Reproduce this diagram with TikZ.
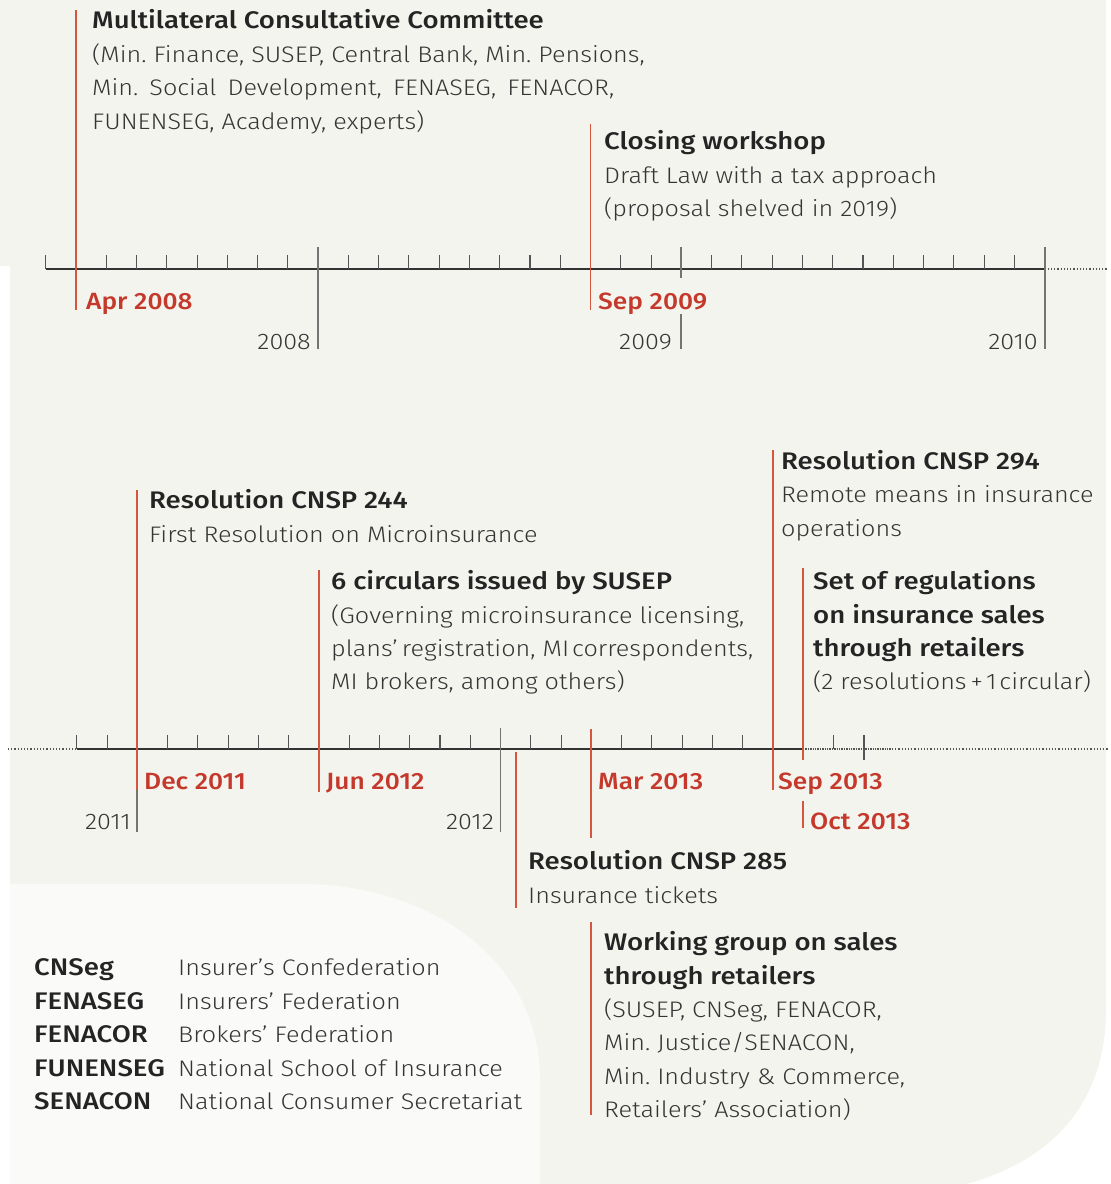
\documentclass[tikz,border=0pt]{standalone}
\usepackage{fontspec}
\setmainfont{Fira Sans}[UprightFont={* Light}, BoldFont={* Medium}]
\newfontfamily\bodyff{Fira Sans}[UprightFont={* Light}, FakeStretch=1.12]
\newfontfamily\ttlff{Fira Sans}[UprightFont={* Medium}, FakeStretch=1.15]
\newfontfamily\labff{Fira Sans}[UprightFont={* Medium}, FakeStretch=1.12]
\frenchspacing
\definecolor{bgc}{HTML}{F4F4EF}
\definecolor{legc}{HTML}{FAFAF8}
\definecolor{titlec}{HTML}{242424}
\definecolor{bodyc}{HTML}{353535}
\definecolor{redc}{HTML}{C4392B}
\definecolor{redl}{HTML}{D5553F}
\definecolor{axc}{HTML}{333333}
\definecolor{tickc}{HTML}{555555}
\definecolor{majc}{HTML}{747474}
\newcommand{\ttlfont}{\ttlff\fontsize{24}{28}\selectfont}
\newcommand{\bdyfont}{\bodyff\fontsize{22.5}{28}\selectfont}
\newcommand{\labfont}{\labff\fontsize{23.5}{28}\selectfont}
\tikzset{
  ttl/.style={anchor=base west, inner sep=0pt, font=\ttlfont, text=titlec},
  bdy/.style={anchor=base west, inner sep=0pt, font=\bdyfont, text=bodyc},
  mlab/.style={anchor=base west, inner sep=0pt, font=\labfont, text=redc},
  yrlab/.style={anchor=base east, inner sep=0pt, font=\bdyfont, text=bodyc},
  evline/.style={draw=redl, line width=1.6pt},
  tickmin/.style={draw=tickc, line width=1.1pt},
  majline/.style={draw=majc, line width=1.8pt},
  axisl/.style={draw=axc, line width=1.6pt},
  dotl/.style={draw=tickc, line width=1.2pt, dotted},
  ddotl/.style={draw=tickc, line width=1.4pt, densely dotted},
}
\begin{document}
\begin{tikzpicture}[x=1pt,y=-1pt]
\useasboundingbox (0,0) rectangle (1111,1184);
\begin{scope}
\clip (0,0) rectangle (1111,1184);
\fill[bgc] (0,0) -- (1106,0) -- (1106,1010) .. controls (1106,1120) and (1030,1188) .. (890,1196) -- (10,1196) -- (10,266) -- (0,266) -- cycle;
\fill[legc] (10,884) -- (300,884) .. controls (430,884) and (540,960) .. (540,1080) -- (540,1190) -- (10,1190) -- cycle;
\end{scope}

% ---------- timeline 1 ----------
\coordinate (a1s) at (45.7,269);
\coordinate (a1e) at (1044.6,269);
\coordinate (a1d) at (1108,269);
\draw[axisl] (a1s) -- (a1e);
\draw[dotl] (a1e) -- (a1d);
\foreach \k in {0,...,32} \draw[tickmin] (45.7+\k*30.27,269) -- ++(0,-14);
\coordinate (y8t) at (318,247); \coordinate (y8b) at (318,349);
\draw[majline] (y8t) -- (y8b);
\coordinate (y9t) at (681,247); \coordinate (y9m) at (681,278);
\coordinate (y9n) at (681,314); \coordinate (y9b) at (681,349);
\draw[majline] (y9t) -- (y9m); \draw[majline] (y9n) -- (y9b);
\coordinate (y10t) at (1044.6,247); \coordinate (y10b) at (1044.6,349);
\draw[majline] (y10t) -- (y10b);

\coordinate (apr8t) at (76,10); \coordinate (apr8b) at (76,310);
\draw[evline] (apr8t) -- (apr8b);
\coordinate (sep9t) at (590.5,124); \coordinate (sep9b) at (590.5,310);
\draw[evline] (sep9t) -- (sep9b);

\node[mlab] (lapr8) at (86,309) {Apr 2008};
\node[mlab] (lsep9) at (598,309) {Sep 2009};
\node[yrlab] (l2008) at (311,349) {2008};
\node[yrlab] (l2009) at (672,349) {2009};
\node[yrlab] (l2010) at (1038,349) {2010};

\node[ttl] (mcct) at (92,28) {Multilateral Consultative Committee};
\node[bdy] (mcc1) at (92,62) {(Min. Finance, SUSEP, Central Bank, Min. Pensions,};
\node[bdy] (mcc2) at (92,95.5) {\makebox[522pt][s]{Min. Social Development, FENASEG, FENACOR,}};
\node[bdy] (mcc3) at (92,129) {FUNENSEG, Academy, experts)};

\node[ttl] (cwt) at (604,149) {Closing workshop};
\node[bdy] (cw1) at (604,183) {Draft Law with a tax approach};
\node[bdy] (cw2) at (604,216.5) {(proposal shelved in 2019)};

% ---------- timeline 2 ----------
\coordinate (a2d) at (8,749);
\coordinate (a2s) at (76.8,749);
\coordinate (a2m) at (803,749);
\coordinate (a2n) at (892,749);
\coordinate (a2e) at (1108,749);
\draw[dotl] (a2d) -- (a2s);
\draw[axisl] (a2s) -- (a2m);
\draw[ddotl] (a2m) -- (a2n);
\draw[dotl] (a2n) -- (a2e);
\foreach \k in {0,...,25} \draw[tickmin] (76.8+\k*30.27,749) -- ++(0,-14);
\coordinate (c13t) at (864,735); \coordinate (c13b) at (864,760);
\draw[tickmin] (c13t) -- (c13b);
\coordinate (y11t) at (137,790); \coordinate (y11b) at (137,832);
\draw[majline] (y11t) -- (y11b);
\coordinate (y12t) at (500.5,728); \coordinate (y12b) at (500.5,832);
\draw[majline] (y12t) -- (y12b);

\coordinate (dec11t) at (137,490); \coordinate (dec11b) at (137,790);
\draw[evline] (dec11t) -- (dec11b);
\coordinate (jun12t) at (319,570); \coordinate (jun12b) at (319,792);
\draw[evline] (jun12t) -- (jun12b);
\coordinate (r285t) at (516,752); \coordinate (r285b) at (516,908);
\draw[evline] (r285t) -- (r285b);
\coordinate (mar13t) at (591,729); \coordinate (mar13b) at (591,838);
\draw[evline] (mar13t) -- (mar13b);
\coordinate (wgt) at (591,922); \coordinate (wgb) at (591,1115);
\draw[evline] (wgt) -- (wgb);
\coordinate (sep13t) at (773,450); \coordinate (sep13b) at (773,790);
\draw[evline] (sep13t) -- (sep13b);
\coordinate (oct13t) at (803,568); \coordinate (oct13m) at (803,760);
\coordinate (oct13n) at (803,801); \coordinate (oct13b) at (803,828);
\draw[evline] (oct13t) -- (oct13m); \draw[evline] (oct13n) -- (oct13b);

\node[mlab] (ldec11) at (144,789) {Dec 2011};
\node[mlab] (ljun12) at (326,789) {Jun 2012};
\node[mlab] (lmar13) at (598,789) {Mar 2013};
\node[mlab] (lsep13) at (778,789) {Sep 2013};
\node[mlab] (loct13) at (810,829) {Oct 2013};
\node[yrlab] (l2011) at (131,829) {2011};
\node[yrlab] (l2012) at (494,829) {2012};

\node[ttl] (r244t) at (149,508) {Resolution CNSP 244};
\node[bdy] (r2441) at (149,542) {First Resolution on Microinsurance};

\node[ttl] (circt) at (331,589) {6 circulars issued by SUSEP};
\node[bdy] (circ1) at (331,623) {(Governing microinsurance licensing,};
\node[bdy] (circ2) at (331,656) {plans’\hspace{4pt}registration, MI\hspace{3pt}correspondents,};
\node[bdy] (circ3) at (331,689) {MI brokers, among others)};

\node[ttl] (r294t) at (781,469) {Resolution CNSP 294};
\node[bdy] (r2941) at (781,502) {Remote means in insurance};
\node[bdy] (r2942) at (781,536) {operations};

\node[ttl] (sett1) at (813,589) {Set of regulations};
\node[ttl] (sett2) at (813,623) {on insurance sales};
\node[ttl] (sett3) at (813,656) {through retailers};
\node[bdy] (set1) at (813,689) {(2 resolutions\hspace{4pt}+\hspace{3pt}1\hspace{3pt}circular)};

\node[ttl] (r285tt) at (528,869) {Resolution CNSP 285};
\node[bdy] (r2851) at (528,903) {Insurance tickets};

\node[ttl] (wgt1) at (604,950) {Working group on sales};
\node[ttl] (wgt2) at (604,984) {through retailers};
\node[bdy] (wg1) at (604,1017) {(SUSEP, CNSeg, FENACOR,};
\node[bdy] (wg2) at (604,1050) {Min. Justice/SENACON,};
\node[bdy] (wg3) at (604,1084) {Min. Industry \& Commerce,};
\node[bdy] (wg4) at (604,1117) {Retailers’ Association)};

% ---------- legend ----------
\node[ttl] (k1) at (34,975) {CNSeg};
\node[ttl] (k2) at (34,1009) {FENASEG};
\node[ttl] (k3) at (34,1042) {FENACOR};
\node[ttl] (k4) at (34,1076) {FUNENSEG};
\node[ttl] (k5) at (34,1109) {SENACON};
\node[bdy] (d1) at (178,975) {Insurer’s Confederation};
\node[bdy] (d2) at (178,1009) {Insurers’ Federation};
\node[bdy] (d3) at (178,1042) {Brokers’ Federation};
\node[bdy] (d4) at (178,1076) {National School of Insurance};
\node[bdy] (d5) at (178,1109) {National Consumer Secretariat};
\end{tikzpicture}
\end{document}
